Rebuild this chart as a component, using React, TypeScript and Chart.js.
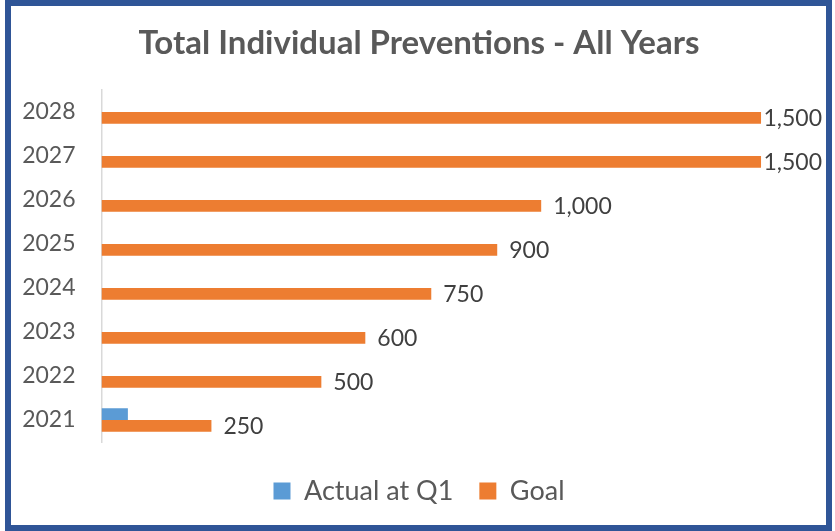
import React, { useEffect, useRef } from "react";
import { Chart, registerables } from "chart.js";

Chart.register(...registerables);

const categories = ["2028", "2027", "2026", "2025", "2024", "2023", "2022", "2021"];
const actualValues: (number | null)[] = [null, null, null, null, null, null, null, 60];
const goalValues = [1500, 1500, 1000, 900, 750, 600, 500, 250];
const seriesNames = ["Actual at Q1", "Goal"];
const titleText = "Total Individual Preventions - All Years";

const FONT = "Lato, 'Open Sans', sans-serif";

const valueLabels = {
  id: "valueLabels",
  afterDatasetsDraw(chart: any) {
    const ctx = chart.ctx;
    const meta = chart.getDatasetMeta(1);
    ctx.save();
    ctx.font = `23px ${FONT}`;
    ctx.fillStyle = "#404040";
    ctx.textAlign = "left";
    ctx.textBaseline = "middle";
    meta.data.forEach((bar: any, i: number) => {
      const v = goalValues[i];
      const text = v.toLocaleString("en-US");
      const w = ctx.measureText(text).width;
      let x = bar.x + 12;
      if (x + w > 822) x = 822 - w;
      ctx.fillText(text, x, bar.y + 1);
    });
    ctx.restore();
  },
};

export default function App() {
  const ref = useRef<HTMLCanvasElement>(null);
  useEffect(() => {
    if (!ref.current) return;
    const chart = new Chart(ref.current, {
      type: "bar",
      data: {
        labels: categories,
        datasets: [
          {
            label: seriesNames[0],
            data: actualValues,
            backgroundColor: "#5B9BD5",
            categoryPercentage: 0.53,
            barPercentage: 1,
          },
          {
            label: seriesNames[1],
            data: goalValues,
            backgroundColor: "#ED7D31",
            categoryPercentage: 0.53,
            barPercentage: 1,
          },
        ],
      },
      options: {
        indexAxis: "y",
        animation: false,
        responsive: false,
        maintainAspectRatio: false,
        layout: { padding: { top: 0, left: 22, right: 19, bottom: 16.5 } },
        scales: {
          x: {
            display: true,
            min: 0,
            max: 1625,
            grid: { display: false },
            border: { display: false },
            ticks: { display: false },
            afterFit: (s: any) => {
              s.height = 9.5;
            },
          },
          y: {
            grid: { display: false, drawTicks: false },
            border: { display: true, color: "#D9D9D9", width: 1.5 },
            ticks: {
              color: "#595959",
              font: { family: FONT, size: 23 },
              padding: 26,
            },
            afterFit: (s: any) => {
              s.width = 79.5;
            },
          },
        },
        plugins: {
          title: {
            display: true,
            text: titleText,
            color: "#595959",
            font: { family: FONT, size: 33, weight: "bold", lineHeight: 1.2 },
            padding: { top: 24, bottom: 26.4 },
          },
          legend: {
            display: true,
            position: "bottom",
            labels: {
              boxWidth: 17,
              boxHeight: 17,
              padding: 26,
              color: "#595959",
              font: { family: FONT, size: 27 },
            },
          },
          tooltip: { enabled: false },
        },
      },
      plugins: [valueLabels],
    });
    return () => chart.destroy();
  }, []);

  return (
    <div style={{ position: "absolute", left: 0, top: 0, width: 835, height: 531, background: "#fff" }}>
      <canvas ref={ref} width={835} height={531} style={{ position: "absolute", left: 0, top: 0, width: 835, height: 531 }} />
      <div
        style={{
          position: "absolute",
          left: 5,
          top: 0,
          width: 827,
          height: 531,
          boxSizing: "border-box",
          border: "6px solid #2F5597",
          pointerEvents: "none",
        }}
      />
    </div>
  );
}
